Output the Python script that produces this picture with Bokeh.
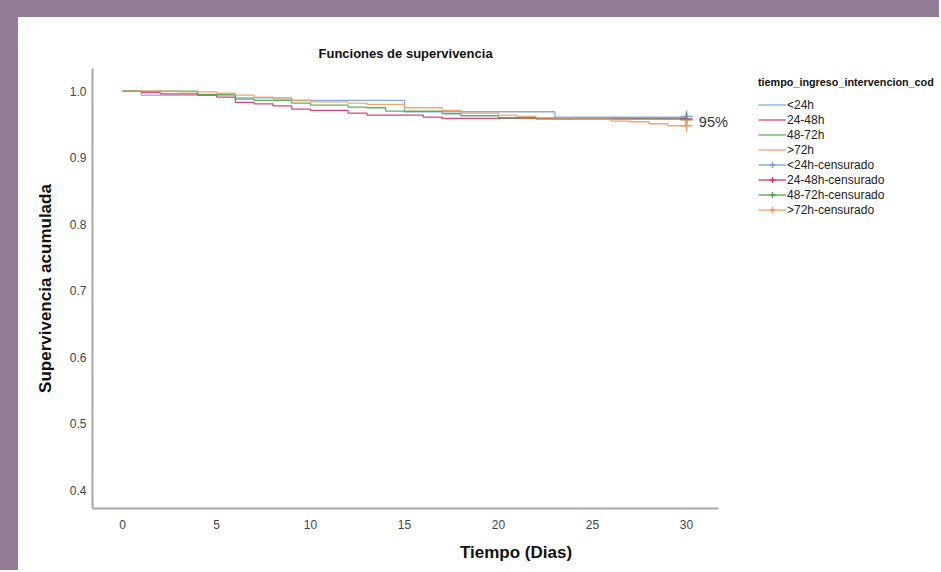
from bokeh.plotting import figure
from bokeh.models import Range1d, Legend, LegendItem, Label, FixedTicker, Spacer, CustomJSTickFormatter
from bokeh.layouts import column, row
from bokeh.embed import file_html
from bokeh.resources import INLINE

# ---- data ----
groups = ["<24h", "24-48h", "48-72h", ">72h"]
colors = ["#74a3db", "#d2336b", "#4fa650", "#f29a62"]

t_lt24 = [0, 1, 6, 9, 15, 23, 30]
s_lt24 = [1.0, 0.994, 0.990, 0.986, 0.969, 0.961, 0.961]

t_24_48 = [0, 1, 2, 4, 5, 6, 7, 8, 9, 10, 12, 13, 16, 17, 30]
s_24_48 = [1.0, 0.998, 0.996, 0.994, 0.991, 0.983, 0.981, 0.978, 0.973, 0.971, 0.967, 0.964, 0.961, 0.959, 0.959]

t_48_72 = [0, 4, 6, 7, 9, 10, 12, 13, 14, 17, 18, 20, 22, 30]
s_48_72 = [1.0, 0.995, 0.988, 0.986, 0.982, 0.979, 0.976, 0.975, 0.970, 0.966, 0.963, 0.960, 0.958, 0.958]

t_gt72 = [0, 3, 5, 6, 7, 8, 9, 10, 12, 13, 15, 17, 18, 20, 21, 22, 24, 26, 27, 28, 29, 30]
s_gt72 = [1.0, 0.999, 0.997, 0.994, 0.991, 0.988, 0.986, 0.984, 0.982, 0.980, 0.975, 0.971, 0.967, 0.964, 0.962, 0.960, 0.958, 0.955, 0.954, 0.951, 0.948, 0.948]

cens_t = [30, 30, 30, 30]
cens_s = [0.962, 0.958, 0.957, 0.948]

x_ticks = [0, 5, 10, 15, 20, 25, 30]
y_ticks = [0.4, 0.5, 0.6, 0.7, 0.8, 0.9, 1.0]

label_text = "95%"
label_x = 30.55
label_y = 0.953

series_t = [t_lt24, t_24_48, t_48_72, t_gt72]
series_s = [s_lt24, s_24_48, s_48_72, s_gt72]

FONT = "Liberation Sans"

p = figure(width=921, height=553, output_backend="svg", toolbar_location=None,
           x_range=Range1d(-1.6, 43.46), y_range=Range1d(0.373, 1.034),
           title="Funciones de supervivencia",
           min_border_left=74, min_border_right=0, min_border_top=51, min_border_bottom=62,
           styles={"background-color": "white"})

p.background_fill_color = "white"
p.border_fill_color = "white"
p.outline_line_color = None
p.xgrid.visible = False
p.ygrid.visible = False

p.title.align = "left"
p.title.offset = 226
p.title.text_font = FONT
p.title.text_font_size = "13px"
p.title.text_font_style = "bold"
p.title.text_color = "#111111"
p.title.standoff = 15

for ax in (p.xaxis[0], p.yaxis[0]):
    ax.axis_line_color = "#a8a8a8"
    ax.axis_line_width = 2
    ax.major_tick_line_color = None
    ax.minor_tick_line_color = None
    ax.major_label_text_font = FONT
    ax.major_label_text_font_size = "12px"
    ax.major_label_text_color = "#444444"
    ax.axis_label_text_font = FONT
    ax.axis_label_text_font_style = "bold"
    ax.axis_label_text_color = "#111111"
    ax.axis_label_text_font_size = "17px"

p.xaxis.bounds = (-1.6, 31.7)
p.xaxis.ticker = FixedTicker(ticks=x_ticks)
p.yaxis.ticker = FixedTicker(ticks=y_ticks)
p.yaxis.formatter = CustomJSTickFormatter(code="return tick.toFixed(1);")
p.xaxis.major_label_standoff = 5
p.yaxis.major_label_standoff = 0
p.xaxis.axis_label = "Tiempo (Dias)"
p.yaxis.axis_label = "Supervivencia acumulada"
p.xaxis.axis_label_standoff = 11
p.yaxis.axis_label_standoff = 12

step_items = []
cens_items = []
for i, g in enumerate(groups):
    r = p.step(series_t[i], series_s[i], mode="after", line_color=colors[i], line_width=1.3, line_alpha=0.9)
    step_items.append(LegendItem(label=g, renderers=[r]))
for i, g in enumerate(groups):
    c = p.scatter([cens_t[i]], [cens_s[i]], marker="cross", size=12, line_color=colors[i], line_width=1.5)
    # single-point line: draws nothing in the plot, gives the long horizontal arm of the legend cross
    arm = p.line([cens_t[i]], [cens_s[i]], line_color=colors[i], line_width=1.3)
    cens_items.append(LegendItem(label=g + "-censurado", renderers=[arm, c]))

p.add_layout(Label(x=label_x, y=label_y, text=label_text, text_font=FONT, text_font_size="14.5px",
                   text_color="#333333", text_baseline="middle", text_align="left", x_offset=2))

legend = Legend(items=step_items + cens_items, location=(666, 291))
legend.title = "tiempo_ingreso_intervencion_cod"
legend.title_text_font = FONT
legend.title_text_font_size = "10.8px"
legend.title_text_font_style = "bold"
legend.title_text_color = "#111111"
legend.title_standoff = 9
legend.label_text_font = FONT
legend.label_text_font_size = "12px"
legend.label_text_color = "#222222"
legend.label_standoff = 1
legend.glyph_width = 28
legend.glyph_height = 15
legend.label_height = 15
legend.spacing = 0
legend.padding = 3
legend.margin = 0
legend.border_line_color = None
legend.background_fill_alpha = 0
p.add_layout(legend, "center")

page = column(Spacer(height=25), row(Spacer(width=26), p),
              styles={"background-color": "#937c95", "margin-left": "-8px", "margin-top": "-8px"})

open("out.html", "w").write(file_html(page, INLINE))
